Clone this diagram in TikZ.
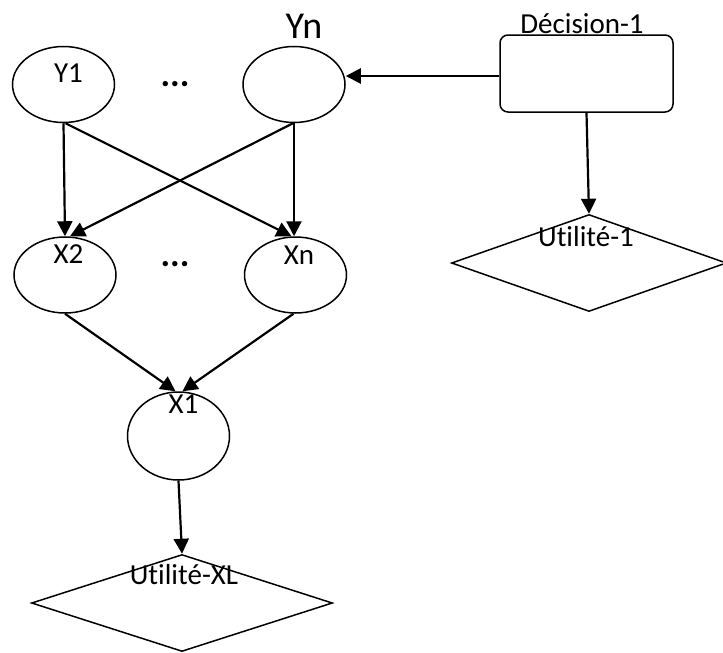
\documentclass[tikz,border=0pt]{standalone}
\usepackage{fontspec}
\setmainfont{Carlito}[Ligatures=NoCommon]
\usetikzlibrary{shapes.geometric,arrows.meta}
\tikzset{
  ell/.style={ellipse, draw, line width=1.5pt, minimum width=102pt, minimum height=76pt, inner sep=0pt},
  decbox/.style={draw, rounded corners=8pt, line width=1.5pt, minimum width=173pt, minimum height=77pt, inner sep=0pt},
  util/.style={diamond, draw, line width=1.5pt, inner sep=0pt},
  arr/.style={line width=2.2pt, -{Triangle[length=15pt,width=15pt]}},
  lbl/.style={anchor=base, inner sep=0pt, font=\fontsize{29}{34}\selectfont},
  biglbl/.style={anchor=base, inner sep=0pt, font=\fontsize{38}{45}\selectfont},
  dots/.style={anchor=base, inner sep=0pt, font=\fontsize{36}{40}\selectfont\bfseries}
}
\begin{document}
\begin{tikzpicture}[x=1pt,y=-1pt]
\useasboundingbox (0,0) rectangle (723,653);
% nodes
\node[ell] (Y1) at (63.5,84.5) {};
\node[ell] (Yn) at (294,84.5) {};
\node[ell] (X2) at (65,275) {};
\node[ell] (Xn) at (295.5,275) {};
\node[ell, minimum height=88pt] (X1) at (178.5,436) {};
\node[decbox] (Dec) at (586.5,73.5) {};
\node[util, minimum width=275pt, minimum height=97pt] (U1) at (589,263) {};
\node[util, minimum width=301pt, minimum height=97pt] (UXL) at (182,603) {};
% labels
\node[lbl] (tY1) at (68.5,82) {Y1};
\node[biglbl] (tYn) at (304,38) {Yn};
\node[dots] (d1) at (175,86) {...};
\node[dots] (d2) at (175,266) {...};
\node[lbl] (tX2) at (68.5,263) {X2};
\node[lbl] (tXn) at (299,264) {Xn};
\node[lbl] (tX1) at (183.5,413) {X1};
\node[lbl] (tDec) at (582,33) {Décision-1};
\node[lbl] (tU1) at (586,246) {Utilité-1};
\node[lbl] (tUXL) at (184,584) {Utilité-XL};
% connectors
\draw[arr] (Y1.south) -- (X2.north);
\draw[arr] ([xshift=2pt]Y1.south) -- ([xshift=-4pt]Xn.north);
\draw[arr] ([xshift=-1pt]Yn.south) -- ([xshift=5pt]X2.north);
\draw[arr] (Yn.south) -- (Yn.south |- Xn.north);
\draw[arr] (X2.south) -- ([xshift=-3pt]X1.north);
\draw[arr] ([xshift=-2pt]Xn.south) -- ([xshift=4pt]X1.north);
\draw[arr] (X1.south) -- (UXL.north);
\draw[arr] ([yshift=-2.5pt]Dec.west) -- ([yshift=-2.5pt]Dec.west -| Yn.east);
\draw[arr] (Dec.south) -- (U1.north);
\end{tikzpicture}
\end{document}
